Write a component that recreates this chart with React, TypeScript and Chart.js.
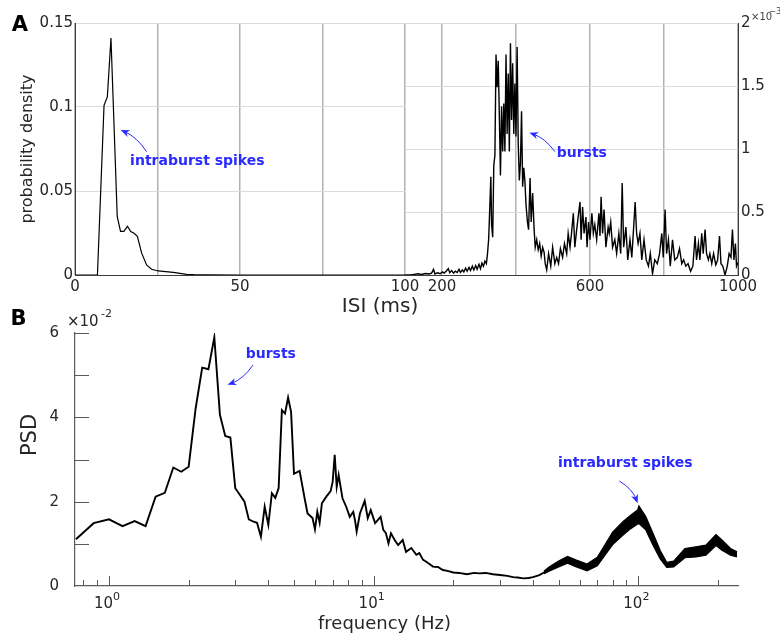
import React, { useEffect, useRef } from 'react';
import { Chart, registerables } from 'chart.js';

Chart.register(...registerables);

const FONT = '"DejaVu Sans", sans-serif';
const TEXT = '#262626';
const BLUE = '#2a2aff';
const AXIS = '#3c3c3c';
const AXIS_B = '#5a5a5a';
const VGRID = '#b2b2b2';
const HGRID = '#dcdcdc';

// ---------- Panel A, left: ISI 0–100 ms ----------
const isiShortMs = [0, 6.8, 8.8, 9.8, 10.9, 12.8, 13.8, 14.8, 15.9, 16.9, 17.9, 18.9, 20.2, 21.7, 23.2, 25.2, 27.5, 29.8, 31.8, 33.8, 36, 40, 50, 100];
const isiShortDensity = [0, 0, 0.101, 0.106, 0.141, 0.0347, 0.026, 0.026, 0.029, 0.0258, 0.0248, 0.023, 0.013, 0.006, 0.0034, 0.0024, 0.002, 0.0016, 0.001, 0.0004, 0.0002, 0.0001, 0, 0];
const isiShortTicks = [0, 25, 50, 75, 100];
const isiShortLabels = [0, 50, 100];
const densityShortTicks = [0, 0.05, 0.1, 0.15];

// ---------- Panel A, right: ISI 100–1000 ms (density ×10^-3) ----------
const isiLongMs = [
  100, 115, 125, 135, 145, 155, 165, 172, 177, 181, 188, 195, 201, 206, 211, 217, 221, 226, 231, 236,
  241, 246, 250, 255, 259, 264, 268, 273, 277, 282, 286, 291, 295, 300, 304, 308, 312, 316, 320, 323,
  326, 329, 332, 334, 337, 340, 343, 346, 349, 352, 355, 358, 361, 364, 367, 370, 373, 376, 379, 382,
  385, 388, 391, 394, 397, 400, 403, 406, 409, 412, 415, 418, 421, 424, 427, 431, 434, 438, 441, 445,
  449, 452, 456, 460, 464, 468, 472, 476, 479, 483, 488, 494, 499, 505, 510, 515, 520, 526, 531, 537,
  541, 546, 550, 555, 559, 564, 568, 573, 576, 580, 584, 589, 592, 596, 600, 605, 609, 613, 618, 624,
  627, 630, 634, 638, 643, 649, 652, 656, 661, 667, 672, 678, 683, 687, 691, 697, 702, 708, 713, 718,
  722, 726, 730, 735, 740, 746, 752, 758, 763, 769, 775, 782, 788, 794, 798, 803, 807, 812, 817, 823,
  829, 836, 842, 848, 853, 859, 865, 872, 878, 884, 888, 893, 897, 902, 906, 911, 915, 920, 924, 929,
  934, 940, 945, 950, 954, 959, 965, 971, 976, 981, 985, 989, 993, 996, 1000
];
const isiLongDensityE3 = [
  0, 0, 0.005, 0.01, 0.004, 0.012, 0.008, 0.015, 0.045, 0.008, 0.018, 0.01, 0.025, 0.015, 0.03, 0.05, 0.018, 0.035, 0.015, 0.03,
  0.02, 0.045, 0.02, 0.04, 0.025, 0.055, 0.03, 0.06, 0.035, 0.07, 0.04, 0.075, 0.045, 0.085, 0.05, 0.095, 0.07, 0.11, 0.09, 0.17,
  0.28, 0.52, 0.78, 0.40, 0.30, 0.87, 0.95, 1.75, 1.49, 1.70, 1.26, 0.79, 1.34, 0.98, 1.36, 0.98, 1.75, 1.12, 1.60, 0.98,
  1.84, 1.23, 1.68, 1.12, 1.52, 1.10, 1.81, 1.05, 0.75, 0.89, 1.30, 0.70, 0.85, 0.75, 0.56, 0.42, 0.36, 0.77, 0.42, 0.65,
  0.36, 0.22, 0.28, 0.20, 0.25, 0.15, 0.22, 0.18, 0.09, 0.04, 0.17, 0.07, 0.22, 0.09, 0.14, 0.09, 0.21, 0.14, 0.25, 0.17,
  0.33, 0.22, 0.33, 0.49, 0.22, 0.36, 0.46, 0.58, 0.28, 0.54, 0.33, 0.46, 0.22, 0.42, 0.28, 0.49, 0.33, 0.40, 0.28, 0.49,
  0.31, 0.62, 0.33, 0.52, 0.22, 0.38, 0.33, 0.42, 0.22, 0.28, 0.17, 0.33, 0.17, 0.73, 0.22, 0.38, 0.12, 0.28, 0.14, 0.38,
  0.58, 0.33, 0.25, 0.33, 0.12, 0.28, 0.12, 0.07, 0.17, 0.01, 0.12, 0.09, 0.17, 0.33, 0.14, 0.52, 0.17, 0.28, 0.07, 0.28,
  0.12, 0.14, 0.21, 0.09, 0.12, 0.07, 0.09, 0.03, 0.07, 0.31, 0.12, 0.25, 0.12, 0.33, 0.17, 0.36, 0.17, 0.12, 0.17, 0.09,
  0.17, 0.08, 0.12, 0.31, 0.09, 0.07, 0.0, 0.07, 0.17, 0.14, 0.36, 0.12, 0.25, 0.07, 0.1
];
const isiLongTicks = [200, 400, 600, 800, 1000];
const isiLongLabels = [200, 600, 1000];
const densityLongTicks = [0, 0.5, 1, 1.5, 2];

// ---------- Panel B: PSD (×10^-2) ----------
const psdHz = [
  0.75, 0.875, 1.0, 1.125, 1.25, 1.375, 1.5, 1.625, 1.75, 1.875, 2.0, 2.125, 2.25, 2.375, 2.5, 2.625, 2.75, 2.875, 3.0, 3.125,
  3.25, 3.375, 3.5, 3.625, 3.75, 3.875, 4.0, 4.125, 4.25, 4.375, 4.5, 4.625, 4.75, 4.875, 5.0, 5.25, 5.5, 5.625, 5.875, 6.0,
  6.125, 6.25, 6.375, 6.625, 6.875, 7.0, 7.125, 7.25, 7.375, 7.625, 7.875, 8.125, 8.375, 8.5, 8.625, 8.875, 9.25, 9.5, 9.75, 10.125,
  10.625, 10.875, 11.125, 11.375, 11.625, 12.0, 12.375, 12.875, 13.25, 13.875, 14.5, 14.875, 15.375, 15.75, 16.25, 16.75, 17.5, 18.25, 19.0, 20.0,
  21.0, 22.5, 24.0, 25.0, 26.5, 28.25, 30.0, 32.0, 33.625, 35.0, 36.75, 38.5, 40.0, 42.25, 44.0, 46.0
];
const psdE2 = [
  1.11, 1.49, 1.58, 1.42, 1.54, 1.42, 2.12, 2.21, 2.81, 2.71, 2.83, 4.21, 5.18, 5.14, 5.90, 4.06, 3.56, 3.52, 2.32, 2.16,
  2.00, 1.58, 1.53, 1.50, 1.17, 1.88, 1.45, 2.20, 2.09, 2.32, 4.17, 4.09, 4.47, 4.13, 2.66, 2.73, 2.04, 1.72, 1.61, 1.34,
  1.76, 1.50, 1.96, 2.12, 2.25, 2.47, 3.11, 2.35, 2.63, 2.08, 1.88, 1.64, 1.76, 1.56, 1.29, 1.72, 2.02, 1.61, 1.80, 1.49,
  1.64, 1.33, 1.25, 1.01, 1.25, 1.09, 0.97, 1.09, 0.81, 0.90, 0.74, 0.78, 0.62, 0.58, 0.52, 0.46, 0.45, 0.38, 0.36, 0.32,
  0.31, 0.28, 0.31, 0.30, 0.31, 0.28, 0.26, 0.24, 0.21, 0.20, 0.18, 0.19, 0.21, 0.26, 0.32, 0.40
];
// noisy high-frequency part, drawn as the band it forms in the picture
const psdBandHz = [44, 46, 50, 54, 58, 64, 70, 74, 80, 87.6, 93.6, 99.5, 100.5, 106.7, 114, 121, 128, 136, 150, 165, 180, 196.5, 207, 223, 236];
const psdBandUpperE2 = [0.35, 0.45, 0.59, 0.70, 0.62, 0.52, 0.68, 0.93, 1.28, 1.53, 1.68, 1.81, 1.90, 1.65, 1.23, 0.84, 0.56, 0.59, 0.89, 0.93, 0.97, 1.22, 1.09, 0.89, 0.81];
const psdBandLowerE2 = [0.29, 0.35, 0.45, 0.54, 0.46, 0.36, 0.48, 0.69, 0.98, 1.21, 1.36, 1.47, 1.48, 1.33, 0.95, 0.64, 0.44, 0.45, 0.67, 0.69, 0.73, 0.96, 0.85, 0.73, 0.69];
const psdTicks = [0, 1, 2, 3, 4, 5, 6];
const psdLabels = [0, 2, 4, 6];
const freqTicks = [0.8, 0.9, 1, 2, 3, 4, 5, 6, 7, 8, 9, 10, 20, 30, 40, 50, 60, 70, 80, 90, 100, 200];
const freqLabels = [1, 10, 100];

const xy = (xs: number[], ys: number[]) => xs.map((x, i) => ({ x, y: ys[i] }));

function drawArrow(ctx: CanvasRenderingContext2D, x0: number, y0: number, x1: number, y1: number, bend: number) {
  const dx = x1 - x0, dy = y1 - y0, len = Math.hypot(dx, dy);
  const px = -dy / len, py = dx / len;
  const cx = (x0 + x1) / 2 + px * bend, cy = (y0 + y1) / 2 + py * bend;
  const ax = x1 - cx, ay = y1 - cy, al = Math.hypot(ax, ay);
  const ux = ax / al, uy = ay / al;
  const L = 9, W = 3.6;
  ctx.save();
  ctx.strokeStyle = BLUE;
  ctx.fillStyle = BLUE;
  ctx.lineWidth = 1;
  ctx.beginPath();
  ctx.moveTo(x0, y0);
  ctx.quadraticCurveTo(cx, cy, x1 - ux * 5, y1 - uy * 5);
  ctx.stroke();
  ctx.beginPath();
  ctx.moveTo(x1, y1);
  ctx.lineTo(x1 - ux * L - uy * W, y1 - uy * L + ux * W);
  ctx.lineTo(x1 - ux * L * 0.7, y1 - uy * L * 0.7);
  ctx.lineTo(x1 - ux * L + uy * W, y1 - uy * L - ux * W);
  ctx.closePath();
  ctx.fill();
  ctx.restore();
}

function annoText(ctx: CanvasRenderingContext2D, text: string, x: number, y: number, align: CanvasTextAlign) {
  ctx.save();
  ctx.font = `bold 14px ${FONT}`;
  ctx.fillStyle = BLUE;
  ctx.textAlign = align;
  ctx.textBaseline = 'middle';
  ctx.fillText(text, x, y);
  ctx.restore();
}

const plainText = (ctx: CanvasRenderingContext2D, text: string, x: number, y: number, font: string, align: CanvasTextAlign = 'center', base: CanvasTextBaseline = 'middle', color = TEXT) => {
  ctx.save();
  ctx.font = font;
  ctx.fillStyle = color;
  ctx.textAlign = align;
  ctx.textBaseline = base;
  ctx.fillText(text, x, y);
  ctx.restore();
};

const decorA = {
  id: 'decorA',
  afterDraw(chart: any) {
    const { ctx } = chart;
    const xs = chart.scales.x, ys = chart.scales.y;
    plainText(ctx, 'A', 20, 26, `bold 21px ${FONT}`, 'center', 'middle', '#000');
    plainText(ctx, 'ISI (ms)', 380, 307, `20px ${FONT}`);
    annoText(ctx, 'intraburst spikes', xs.getPixelForValue(16.7), ys.getPixelForValue(0.0676), 'left');
    drawArrow(ctx, xs.getPixelForValue(21.7), ys.getPixelForValue(0.0734), xs.getPixelForValue(13.85), ys.getPixelForValue(0.0863), 5);
  }
};

const decorA2 = {
  id: 'decorA2',
  afterDraw(chart: any) {
    const { ctx } = chart;
    const xs = chart.scales.x, ys = chart.scales.y;
    plainText(ctx, '×10', 371, 20, `10px ${FONT}`, 'left', 'alphabetic', '#404040');
    plainText(ctx, '−3', 389, 14, `8.5px ${FONT}`, 'left', 'alphabetic', '#404040');
    annoText(ctx, 'bursts', xs.getPixelForValue(510), ys.getPixelForValue(0.964), 'left');
    drawArrow(ctx, xs.getPixelForValue(505), ys.getPixelForValue(0.979), xs.getPixelForValue(436), ys.getPixelForValue(1.129), 5);
  }
};

const decorB = {
  id: 'decorB',
  afterDraw(chart: any) {
    const { ctx, chartArea: ca } = chart;
    const xs = chart.scales.x, ys = chart.scales.y;
    ctx.save();
    ctx.strokeStyle = AXIS_B;
    ctx.lineWidth = 1;
    ctx.beginPath();
    freqTicks.forEach((f) => {
      const px = Math.round(xs.getPixelForValue(f)) + 0.5;
      const len = freqLabels.includes(f) ? 10 : 6;
      ctx.moveTo(px, ca.bottom);
      ctx.lineTo(px, ca.bottom - len);
    });
    psdTicks.forEach((v) => {
      if (v === 0) return;
      const py = Math.round(ys.getPixelForValue(v)) + 0.5;
      ctx.moveTo(ca.left, py);
      ctx.lineTo(ca.left + 14, py);
    });
    ctx.stroke();
    ctx.restore();

    // decade labels 10^n
    freqLabels.forEach((f) => {
      const e = String(Math.round(Math.log10(f)));
      const px = xs.getPixelForValue(f);
      ctx.save();
      ctx.font = `15px ${FONT}`;
      const wb = ctx.measureText('10').width;
      ctx.font = `11px ${FONT}`;
      const we = ctx.measureText(e).width;
      const x0 = px - (wb + we) / 2 - 2;
      ctx.restore();
      plainText(ctx, '10', x0, ca.bottom + 22, `15px ${FONT}`, 'left', 'alphabetic');
      plainText(ctx, e, x0 + wb, ca.bottom + 14, `11px ${FONT}`, 'left', 'alphabetic');
    });

    plainText(ctx, 'B', 18.5, 20, `bold 21px ${FONT}`, 'center', 'middle', '#000');
    plainText(ctx, '×10', 67, 26, `15px ${FONT}`, 'left', 'alphabetic');
    plainText(ctx, '-2', 101, 17, `11px ${FONT}`, 'left', 'alphabetic');
    plainText(ctx, 'frequency (Hz)', 384.5, 324, `18px ${FONT}`);
    ctx.save();
    ctx.translate(31, 135);
    ctx.rotate(-Math.PI / 2);
    plainText(ctx, 'PSD', 0, 0, `21px ${FONT}`);
    ctx.restore();

    annoText(ctx, 'bursts', xs.getPixelForValue(4.087), ys.getPixelForValue(5.5), 'center');
    drawArrow(ctx, xs.getPixelForValue(3.5), ys.getPixelForValue(5.24), xs.getPixelForValue(2.805), ys.getPixelForValue(4.77), -5);
    annoText(ctx, 'intraburst spikes', xs.getPixelForValue(89.3), ys.getPixelForValue(2.92), 'center');
    drawArrow(ctx, xs.getPixelForValue(84.8), ys.getPixelForValue(2.49), xs.getPixelForValue(99.4), ys.getPixelForValue(1.96), -5);
  }
};

const tickFont = { family: FONT, size: 15 };

function configA(): any {
  return {
    type: 'line',
    data: {
      datasets: [{
        data: xy(isiShortMs, isiShortDensity),
        borderColor: '#000', borderWidth: 1.2, pointRadius: 0, tension: 0, fill: false,
      }],
    },
    options: {
      responsive: false, maintainAspectRatio: false, animation: false, events: [],
      layout: { padding: { left: 0, right: 15, top: 23, bottom: 0 } },
      plugins: { legend: { display: false }, tooltip: { enabled: false } },
      scales: {
        x: {
          type: 'linear', min: 0, max: 100, bounds: 'data',
          afterBuildTicks: (s: any) => { s.ticks = isiShortTicks.map((value) => ({ value })); },
          afterFit: (s: any) => { s.height = 45; s.paddingLeft = 0; s.paddingRight = 0; },
          ticks: { autoSkip: false, maxRotation: 0, padding: 3, color: TEXT, font: tickFont,
            callback: (v: number) => (isiShortLabels.includes(v) ? String(v) : '') },
          grid: { drawTicks: false, color: VGRID, lineWidth: 1.5 },
          border: { display: true, color: AXIS, width: 1 },
        },
        y: {
          min: 0, max: 0.15, bounds: 'data',
          afterBuildTicks: (s: any) => { s.ticks = densityShortTicks.map((value) => ({ value })); },
          afterFit: (s: any) => { s.width = 75; s.paddingTop = 0; s.paddingBottom = 0; },
          ticks: { padding: 2, color: TEXT, font: tickFont, callback: (v: number) => String(+v.toFixed(2)) },
          grid: { drawTicks: false, color: HGRID, lineWidth: 1 },
          border: { display: true, color: AXIS, width: 1 },
          title: { display: true, text: 'probability density', color: TEXT, font: { family: FONT, size: 16 }, padding: { top: 18, bottom: 0 } },
        },
      },
    },
    plugins: [decorA],
  };
}

function configA2(): any {
  return {
    type: 'line',
    data: {
      datasets: [{
        data: xy(isiLongMs, isiLongDensityE3),
        borderColor: '#000', borderWidth: 1.4, pointRadius: 0, tension: 0, fill: false,
      }],
    },
    options: {
      responsive: false, maintainAspectRatio: false, animation: false, events: [],
      layout: { padding: { left: 25, right: 0, top: 23, bottom: 0 } },
      plugins: { legend: { display: false }, tooltip: { enabled: false } },
      scales: {
        x: {
          type: 'linear', min: 100, max: 1000, bounds: 'data',
          afterBuildTicks: (s: any) => { s.ticks = isiLongTicks.map((value) => ({ value })); },
          afterFit: (s: any) => { s.height = 45; s.paddingLeft = 0; s.paddingRight = 0; },
          ticks: { autoSkip: false, maxRotation: 0, padding: 3, color: TEXT, font: tickFont,
            callback: (v: number) => (isiLongLabels.includes(v) ? String(v) : '') },
          grid: { drawTicks: false, color: VGRID, lineWidth: 1.5 },
          border: { display: true, color: AXIS, width: 1 },
        },
        y: {
          position: 'right', min: 0, max: 2, bounds: 'data',
          afterBuildTicks: (s: any) => { s.ticks = densityLongTicks.map((value) => ({ value })); },
          afterFit: (s: any) => { s.width = 42; s.paddingTop = 0; s.paddingBottom = 0; },
          ticks: { padding: 3, color: TEXT, font: tickFont, callback: (v: number) => String(v) },
          grid: { drawTicks: false, color: HGRID, lineWidth: 1 },
          border: { display: true, color: AXIS, width: 1 },
        },
      },
    },
    plugins: [decorA2],
  };
}

function configB(): any {
  return {
    type: 'line',
    data: {
      datasets: [
        { data: xy(psdHz, psdE2), borderColor: '#000', borderWidth: 1.9, pointRadius: 0, tension: 0, fill: false },
        { data: xy(psdBandHz, psdBandUpperE2), borderColor: '#000', backgroundColor: '#000', borderWidth: 1.2, pointRadius: 0, tension: 0, fill: '+1' },
        { data: xy(psdBandHz, psdBandLowerE2), borderColor: '#000', borderWidth: 1.2, pointRadius: 0, tension: 0, fill: false },
      ],
    },
    options: {
      responsive: false, maintainAspectRatio: false, animation: false, events: [],
      layout: { padding: { left: 0, right: 42, top: 33, bottom: 0 } },
      plugins: { legend: { display: false }, tooltip: { enabled: false } },
      scales: {
        x: {
          type: 'logarithmic', min: 0.744, max: 238, bounds: 'data',
          afterBuildTicks: (s: any) => { s.ticks = freqTicks.map((value) => ({ value })); },
          afterFit: (s: any) => { s.height = 53; s.paddingLeft = 0; s.paddingRight = 0; },
          ticks: { display: false },
          grid: { display: false },
          border: { display: true, color: AXIS_B, width: 1.2 },
        },
        y: {
          min: 0, max: 6, bounds: 'data',
          afterBuildTicks: (s: any) => { s.ticks = psdTicks.map((value) => ({ value })); },
          afterFit: (s: any) => { s.width = 75; s.paddingTop = 0; s.paddingBottom = 0; },
          ticks: { padding: 8, color: TEXT, font: tickFont, callback: (v: number) => (psdLabels.includes(v) ? String(v) : '') },
          grid: { display: false },
          border: { display: true, color: AXIS_B, width: 1.2 },
        },
      },
    },
    plugins: [decorB],
  };
}

export default function App() {
  const refA = useRef<HTMLCanvasElement>(null);
  const refA2 = useRef<HTMLCanvasElement>(null);
  const refB = useRef<HTMLCanvasElement>(null);

  useEffect(() => {
    const charts = [
      new Chart(refA.current as HTMLCanvasElement, configA()),
      new Chart(refA2.current as HTMLCanvasElement, configA2()),
      new Chart(refB.current as HTMLCanvasElement, configB()),
    ];
    return () => charts.forEach((c) => c.destroy());
  }, []);

  return (
    <div style={{ position: 'absolute', left: 0, top: 0, width: 780, height: 639, background: '#fff', overflow: 'hidden' }}>
      <canvas ref={refA} width={420} height={320} style={{ position: 'absolute', left: 0, top: 0 }} />
      <canvas ref={refA2} width={400} height={320} style={{ position: 'absolute', left: 380, top: 0 }} />
      <canvas ref={refB} width={780} height={339} style={{ position: 'absolute', left: 0, top: 300 }} />
    </div>
  );
}
